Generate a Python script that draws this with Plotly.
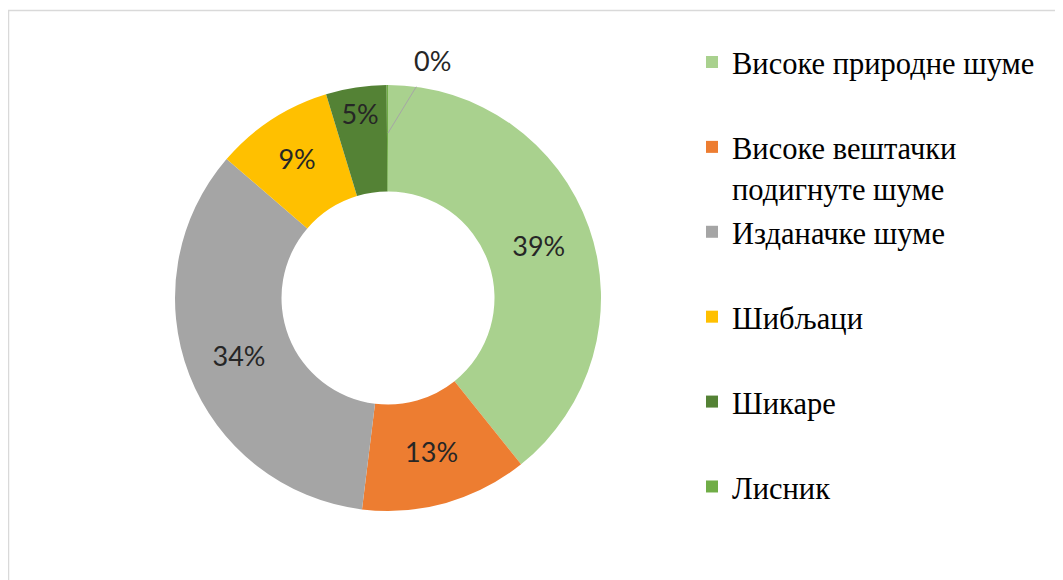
import plotly.graph_objects as go

# ---- data ----
categories = [
    "Високе природне шуме",
    "Високе вештачки<br>подигнуте шуме",
    "Изданачке шуме",
    "Шибљаци",
    "Шикаре",
    "Лисник",
]
values = [39.3, 12.7, 34.4, 9.0, 4.6, 0.1]
colors = ["#A9D18E", "#ED7D31", "#A5A5A5", "#FFC000", "#548235", "#70AD47"]

W, H = 1063, 580
OFF = 8  # page body margin
cx_px, cy_px, r_px = 388 - OFF, 298 - OFF, 213

legend_labels = []
for c in categories:
    parts = c.split("<br>")
    txt = "<br>".join(f"<span style='font-size:30.5px'>{p}</span>" for p in parts)
    if len(parts) == 1:
        txt += "<br>\u00a0"
    legend_labels.append(txt)

dom_x = [(cx_px - r_px) / W, (cx_px + r_px) / W]
dom_y = [(H - cy_px - r_px) / H, (H - cy_px + r_px) / H]

textpos = ["inside"] * (len(values) - 1) + ["none"]

fig = go.Figure()
fig.add_trace(go.Pie(
    labels=legend_labels,
    values=values,
    marker=dict(colors=colors, line=dict(width=0)),
    hole=0.5,
    sort=False,
    direction="clockwise",
    rotation=0,
    textinfo="percent",
    texttemplate="%{percent:.0%}",
    textposition=textpos,
    insidetextorientation="horizontal",
    textfont=dict(family="Lato", size=27, color="#262626"),
    domain=dict(x=dom_x, y=dom_y),
    showlegend=True,
))

small_pct = round(100 * values[-1] / sum(values))
cxp = (dom_x[0] + dom_x[1]) / 2
cyp = (dom_y[0] + dom_y[1]) / 2
fig.add_annotation(
    x=cxp, y=cyp + 165 / H, xref="paper", yref="paper",
    text=f"{small_pct}%", showarrow=True, arrowhead=0, arrowwidth=1,
    arrowcolor="#A6A6A6", ax=44, ay=-72, standoff=0, startstandoff=9,
    font=dict(family="Lato", size=27, color="#262626"),
)

fig.add_shape(
    type="rect", xref="paper", yref="paper",
    x0=0.5 / W, x1=1.05, y0=-0.05, y1=(H - 2.5) / H,
    line=dict(color="#D9D9D9", width=1.5), fillcolor="rgba(0,0,0,0)",
)

fig.update_layout(
    width=W, height=H,
    margin=dict(l=0, r=0, t=0, b=0),
    paper_bgcolor="white",
    plot_bgcolor="white",
    legend=dict(
        x=684 / W, y=(H - 27) / H, xanchor="left", yanchor="top",
        font=dict(family="Liberation Serif", size=31.5, color="#000000"),
        valign="top",
        bgcolor="rgba(0,0,0,0)",
        traceorder="normal",
    ),
)

fig.write_html("out.html")
